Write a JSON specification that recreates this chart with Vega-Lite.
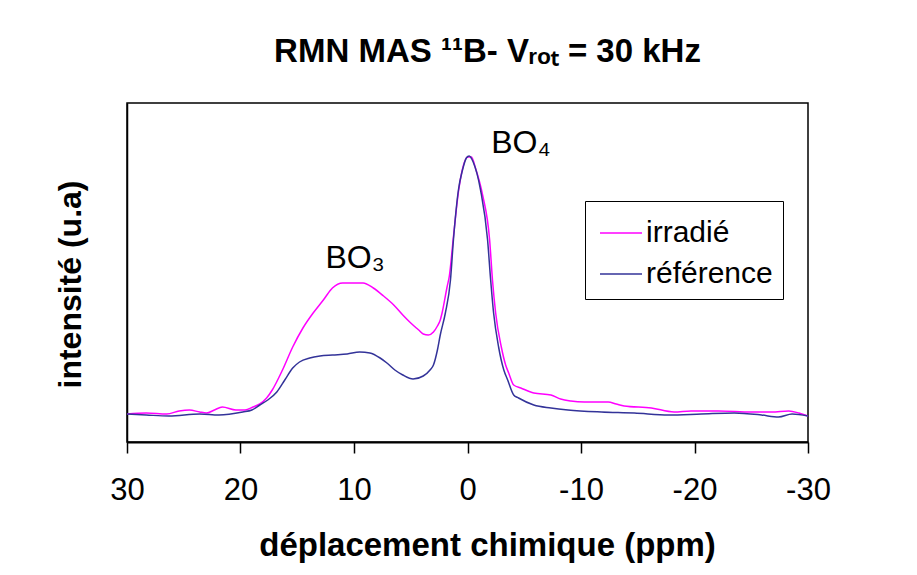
{
  "$schema": "https://vega.github.io/schema/vega-lite/v6.json",
  "autosize": "none",
  "width": 681,
  "height": 339,
  "padding": {"left": 127, "top": 103, "right": 109, "bottom": 133},
  "background": "white",
  "config": {
    "font": "Liberation Sans",
    "view": {"stroke": "black", "strokeWidth": 1.5},
    "axis": {"grid": false}
  },
  "title": {
    "text": "RMN MAS ¹¹B- Vᵣₒₜ = 30 kHz",
    "fontSize": 33,
    "fontWeight": "bold",
    "color": "black",
    "anchor": "middle",
    "dx": 20,
    "offset": 34
  },
  "datasets": {
    "spectra": [
      {"ppm": 30, "v": 28, "s": "irradié"}, {"ppm": 28.3, "v": 29, "s": "irradié"}, {"ppm": 26.5, "v": 28, "s": "irradié"},
      {"ppm": 25.4, "v": 31, "s": "irradié"}, {"ppm": 24.5, "v": 32, "s": "irradié"}, {"ppm": 23.6, "v": 30, "s": "irradié"},
      {"ppm": 23.0, "v": 29, "s": "irradié"}, {"ppm": 22.3, "v": 32, "s": "irradié"}, {"ppm": 21.6, "v": 35, "s": "irradié"},
      {"ppm": 20.4, "v": 32, "s": "irradié"}, {"ppm": 19.6, "v": 32, "s": "irradié"}, {"ppm": 18.9, "v": 35, "s": "irradié"},
      {"ppm": 18.3, "v": 38, "s": "irradié"}, {"ppm": 17.7, "v": 44, "s": "irradié"}, {"ppm": 17.2, "v": 52, "s": "irradié"},
      {"ppm": 16.3, "v": 72, "s": "irradié"}, {"ppm": 15.4, "v": 95, "s": "irradié"}, {"ppm": 14.5, "v": 114, "s": "irradié"},
      {"ppm": 13.6, "v": 129, "s": "irradié"}, {"ppm": 12.7, "v": 142, "s": "irradié"}, {"ppm": 11.9, "v": 154, "s": "irradié"},
      {"ppm": 11.0, "v": 159, "s": "irradié"}, {"ppm": 10.1, "v": 159, "s": "irradié"}, {"ppm": 9.2, "v": 159, "s": "irradié"},
      {"ppm": 8.3, "v": 154, "s": "irradié"}, {"ppm": 7.4, "v": 146, "s": "irradié"}, {"ppm": 6.5, "v": 137, "s": "irradié"},
      {"ppm": 5.7, "v": 127, "s": "irradié"}, {"ppm": 5.0, "v": 119, "s": "irradié"}, {"ppm": 4.3, "v": 112, "s": "irradié"},
      {"ppm": 3.9, "v": 108, "s": "irradié"}, {"ppm": 3.45, "v": 107, "s": "irradié"}, {"ppm": 3.0, "v": 110, "s": "irradié"},
      {"ppm": 2.65, "v": 116, "s": "irradié"}, {"ppm": 2.4, "v": 122, "s": "irradié"}, {"ppm": 2.24, "v": 129, "s": "irradié"},
      {"ppm": 1.8, "v": 155, "s": "irradié"}, {"ppm": 1.6, "v": 166, "s": "irradié"}, {"ppm": 1.24, "v": 205, "s": "irradié"},
      {"ppm": 0.8, "v": 250, "s": "irradié"}, {"ppm": 0.35, "v": 277, "s": "irradié"}, {"ppm": 0.0, "v": 285, "s": "irradié"},
      {"ppm": -0.35, "v": 285, "s": "irradié"}, {"ppm": -0.7, "v": 274, "s": "irradié"}, {"ppm": -1.33, "v": 247, "s": "irradié"},
      {"ppm": -1.95, "v": 202, "s": "irradié"}, {"ppm": -2.2, "v": 162, "s": "irradié"}, {"ppm": -2.48, "v": 129, "s": "irradié"},
      {"ppm": -2.98, "v": 95, "s": "irradié"}, {"ppm": -3.36, "v": 77, "s": "irradié"}, {"ppm": -3.63, "v": 69, "s": "irradié"},
      {"ppm": -4.07, "v": 57, "s": "irradié"}, {"ppm": -4.7, "v": 54, "s": "irradié"}, {"ppm": -5.84, "v": 49, "s": "irradié"},
      {"ppm": -7.35, "v": 47, "s": "irradié"}, {"ppm": -8.2, "v": 43, "s": "irradié"}, {"ppm": -9.1, "v": 41, "s": "irradié"},
      {"ppm": -10.3, "v": 40, "s": "irradié"}, {"ppm": -12.4, "v": 40, "s": "irradié"}, {"ppm": -13.1, "v": 38, "s": "irradié"},
      {"ppm": -13.8, "v": 36, "s": "irradié"}, {"ppm": -16.2, "v": 34, "s": "irradié"}, {"ppm": -18.2, "v": 30, "s": "irradié"},
      {"ppm": -19.7, "v": 31, "s": "irradié"}, {"ppm": -22.1, "v": 31, "s": "irradié"}, {"ppm": -25.0, "v": 30, "s": "irradié"},
      {"ppm": -26.8, "v": 30, "s": "irradié"}, {"ppm": -28.3, "v": 31, "s": "irradié"}, {"ppm": -29.2, "v": 29, "s": "irradié"},
      {"ppm": -30, "v": 26, "s": "irradié"},
      {"ppm": 30, "v": 28, "s": "référence"}, {"ppm": 28.3, "v": 27, "s": "référence"}, {"ppm": 26.3, "v": 26, "s": "référence"},
      {"ppm": 23.6, "v": 28, "s": "référence"}, {"ppm": 21.9, "v": 27, "s": "référence"}, {"ppm": 19.8, "v": 30, "s": "référence"},
      {"ppm": 19.0, "v": 32, "s": "référence"}, {"ppm": 18.3, "v": 37, "s": "référence"}, {"ppm": 17.6, "v": 42, "s": "référence"},
      {"ppm": 16.8, "v": 50, "s": "référence"}, {"ppm": 16.1, "v": 62, "s": "référence"}, {"ppm": 15.4, "v": 74, "s": "référence"},
      {"ppm": 14.8, "v": 80, "s": "référence"}, {"ppm": 13.9, "v": 84, "s": "référence"}, {"ppm": 13.0, "v": 86, "s": "référence"},
      {"ppm": 11.9, "v": 87, "s": "référence"}, {"ppm": 10.6, "v": 88, "s": "référence"}, {"ppm": 9.5, "v": 90, "s": "référence"},
      {"ppm": 8.6, "v": 89, "s": "référence"}, {"ppm": 7.7, "v": 84, "s": "référence"}, {"ppm": 7.1, "v": 79, "s": "référence"},
      {"ppm": 6.4, "v": 72, "s": "référence"}, {"ppm": 5.7, "v": 67, "s": "référence"}, {"ppm": 4.8, "v": 63, "s": "référence"},
      {"ppm": 3.9, "v": 66, "s": "référence"}, {"ppm": 3.3, "v": 72, "s": "référence"}, {"ppm": 3.0, "v": 77, "s": "référence"},
      {"ppm": 2.65, "v": 92, "s": "référence"}, {"ppm": 2.4, "v": 107, "s": "référence"}, {"ppm": 1.95, "v": 129, "s": "référence"},
      {"ppm": 1.5, "v": 162, "s": "référence"}, {"ppm": 1.24, "v": 202, "s": "référence"}, {"ppm": 0.8, "v": 252, "s": "référence"},
      {"ppm": 0.44, "v": 272, "s": "référence"}, {"ppm": 0.1, "v": 284, "s": "référence"}, {"ppm": -0.15, "v": 286, "s": "référence"},
      {"ppm": -0.5, "v": 280, "s": "référence"}, {"ppm": -1.15, "v": 252, "s": "référence"}, {"ppm": -1.77, "v": 202, "s": "référence"},
      {"ppm": -2.04, "v": 162, "s": "référence"}, {"ppm": -2.3, "v": 129, "s": "référence"}, {"ppm": -2.74, "v": 95, "s": "référence"},
      {"ppm": -3.2, "v": 72, "s": "référence"}, {"ppm": -3.54, "v": 62, "s": "référence"}, {"ppm": -4.07, "v": 47, "s": "référence"},
      {"ppm": -4.5, "v": 44, "s": "référence"}, {"ppm": -5.84, "v": 37, "s": "référence"}, {"ppm": -7.35, "v": 34, "s": "référence"},
      {"ppm": -8.85, "v": 32, "s": "référence"}, {"ppm": -11.8, "v": 30, "s": "référence"}, {"ppm": -14.7, "v": 29, "s": "référence"},
      {"ppm": -17.7, "v": 27, "s": "référence"}, {"ppm": -20.6, "v": 28, "s": "référence"}, {"ppm": -23.5, "v": 29, "s": "référence"},
      {"ppm": -25.9, "v": 27, "s": "référence"}, {"ppm": -27.4, "v": 25, "s": "référence"}, {"ppm": -28.6, "v": 28, "s": "référence"},
      {"ppm": -30, "v": 26, "s": "référence"}
    ],
    "labels": [
      {"ppm": 9.9, "v": 184, "t": "BO₃"},
      {"ppm": -4.7, "v": 299, "t": "BO₄"}
    ]
  },
  "layer": [
    {
      "data": {"name": "spectra"},
      "mark": {"type": "line", "strokeWidth": 1.5, "interpolate": "monotone"},
      "encoding": {
        "x": {
          "field": "ppm", "type": "quantitative",
          "scale": {"domain": [-30, 30], "reverse": true, "nice": false},
          "axis": {
            "title": "déplacement chimique (ppm)",
            "titleFontSize": 33, "titleFontWeight": "bold", "titleColor": "black",
            "titleX": 360, "titlePadding": 24,
            "values": [30, 20, 10, 0, -10, -20, -30],
            "labelExpr": "'' + datum.value",
            "labelFlush": false, "labelOverlap": false,
            "labelFontSize": 31, "labelColor": "black", "labelPadding": 22,
            "domainColor": "black", "domainWidth": 2,
            "tickColor": "black", "tickSize": 11, "tickWidth": 1.5
          }
        },
        "y": {
          "field": "v", "type": "quantitative",
          "scale": {"domain": [0, 339], "nice": false, "zero": false},
          "axis": {
            "title": "intensité (u.a)",
            "titleFontSize": 32, "titleFontWeight": "bold", "titleColor": "black",
            "titlePadding": 40, "titleY": 181,
            "labels": false, "ticks": false,
            "domainColor": "black", "domainWidth": 1.5
          }
        },
        "color": {
          "field": "s", "type": "nominal",
          "scale": {"domain": ["irradié", "référence"], "range": ["#FF00FF", "#333399"]},
          "legend": {
            "title": null,
            "orient": "none",
            "legendX": 458,
            "legendY": 98,
            "strokeColor": "black",
            "fillColor": "white",
            "padding": 10,
            "symbolType": "stroke",
            "symbolSize": 1764,
            "symbolStrokeWidth": 1.5,
            "symbolOffset": 4,
            "labelFontSize": 30,
            "labelColor": "black",
            "labelOffset": 3,
            "rowPadding": 4
          }
        }
      }
    },
    {
      "data": {"name": "labels"},
      "mark": {"type": "text", "fontSize": 32, "color": "black", "align": "center", "baseline": "middle"},
      "encoding": {
        "x": {"field": "ppm", "type": "quantitative"},
        "y": {"field": "v", "type": "quantitative"},
        "text": {"field": "t"}
      }
    }
  ]
}
